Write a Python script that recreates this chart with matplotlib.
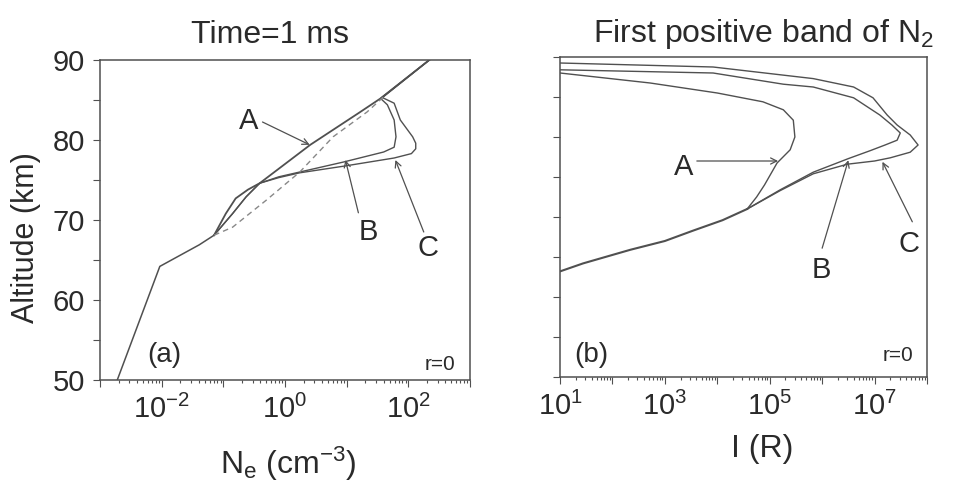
import numpy as np
import matplotlib
matplotlib.use('Agg')
import matplotlib.pyplot as plt
from matplotlib.ticker import FixedLocator, LogLocator, NullFormatter

plt.rcParams['font.family'] = ['Liberation Sans', 'DejaVu Sans']
plt.rcParams['mathtext.fontset'] = 'custom'
plt.rcParams['mathtext.rm'] = 'Liberation Sans'
plt.rcParams['mathtext.it'] = 'Liberation Sans:italic'
plt.rcParams['mathtext.default'] = 'regular'

line_col = '#505050'
text_col = '#2a2a2a'

# ---- panel (a): electron density, log10(Ne) vs altitude (km)
low_alt = [50, 64.2, 66.9, 68.1]
low_logn = [-2.72, -2.03, -1.39, -1.15]

a_alt = [68.1, 70.8, 72.7, 73.8, 74.6, 79.4, 83.4, 85.2, 90]
a_logn = [-1.15, -0.96, -0.80, -0.60, -0.41, 0.41, 1.20, 1.55, 2.34]

b_alt = [68.1, 70.8, 72.9, 74.6, 75.4, 76.0, 77.25, 78.5, 79.1, 80.4, 82.5, 84.4, 85.2, 90]
b_logn = [-1.15, -0.85, -0.63, -0.41, -0.10, 0.24, 0.95, 1.60, 1.77, 1.80, 1.77, 1.66, 1.55, 2.34]

c_alt = [68.1, 70.8, 72.9, 74.6, 75.3, 75.9, 76.75, 77.75, 78.3, 78.9, 79.6, 80.4, 82.5, 84.6, 85.3, 90]
c_logn = [-1.15, -0.85, -0.63, -0.41, -0.10, 0.24, 0.97, 1.77, 2.05, 2.12, 2.12, 2.07, 1.87, 1.77, 1.58, 2.34]

dash_alt = [68.1, 69.1, 72.5, 76.0, 80.4, 83.5, 85.4]
dash_logn = [-1.15, -0.85, -0.30, 0.24, 0.78, 1.33, 1.60]

# ---- panel (b): first positive band intensity, log10(I) vs altitude (km)
low_b_alt = [63.2, 64.2, 65.9, 67.0, 68.3, 69.6, 71.0]
low_b_logi = [1.0, 1.44, 2.34, 3.0, 3.54, 4.1, 4.57]

ia_alt = [71.0, 72.5, 74.0, 76.75, 78.4, 80.0, 82.1, 83.4, 84.4, 85.5, 86.75, 88.0]
ia_logi = [4.57, 4.75, 4.90, 5.14, 5.39, 5.48, 5.45, 5.26, 4.87, 4.0, 2.72, 1.0]

ib_alt = [71.0, 73.4, 75.6, 77.3, 78.3, 79.0, 79.6, 80.5, 81.5, 82.75, 84.9, 86.25, 86.6, 88.0, 88.4]
ib_logi = [4.57, 5.20, 5.83, 6.50, 6.92, 7.20, 7.43, 7.49, 7.33, 7.10, 6.60, 5.83, 5.26, 3.92, 1.0]

ic_alt = [71.0, 73.3, 75.4, 76.6, 77.0, 77.4, 78.1, 79.0, 80.25, 81.5, 82.75, 84.9, 86.25, 87.3, 88.75, 89.25]
ic_logi = [4.57, 5.20, 5.83, 6.48, 7.0, 7.30, 7.68, 7.83, 7.68, 7.43, 7.24, 6.97, 6.60, 5.83, 3.92, 1.0]

fig = plt.figure(figsize=(9.54, 4.82), dpi=100)
ax1 = fig.add_axes([100/954, 1-380/482, 370/954, 320/482])
ax2 = fig.add_axes([560/954, 1-377/482, 367/954, 320/482])

def ten(v):
    return 10**np.array(v)

ax1.plot(ten(low_logn), low_alt, color=line_col, lw=1.1)
ax1.plot(ten(a_logn), a_alt, color=line_col, lw=1.3)
ax1.plot(ten(b_logn), b_alt, color=line_col, lw=1.0)
ax1.plot(ten(c_logn), c_alt, color=line_col, lw=1.0)
ax1.plot(ten(dash_logn), dash_alt, color='#888888', lw=1.0, ls=(0, (4, 3)))

ax2.plot(ten(low_b_logi), low_b_alt, color=line_col, lw=1.5)
ax2.plot(ten(ia_logi), ia_alt, color=line_col, lw=1.0)
ax2.plot(ten(ib_logi), ib_alt, color=line_col, lw=1.0)
ax2.plot(ten(ic_logi), ic_alt, color=line_col, lw=1.0)

# axes styling
def style(ax, lo, hi, labelled, ylabels):
    ax.set_xscale('log')
    ax.set_xlim(10.0**lo, 10.0**hi)
    ax.set_ylim(50, 90)
    dec = list(range(lo, hi + 1))
    ax.xaxis.set_major_locator(FixedLocator([10.0**d for d in dec]))
    ax.set_xticklabels(['$10^{%d}$' % d if d in labelled else '' for d in dec])
    ax.xaxis.set_minor_locator(LogLocator(base=10, subs=np.arange(2, 10), numticks=30))
    ax.xaxis.set_minor_formatter(NullFormatter())
    yt = list(range(50, 95, 5))
    ax.set_yticks(yt)
    if ylabels:
        ax.set_yticklabels([str(v) if v % 10 == 0 else '' for v in yt])
    else:
        ax.set_yticklabels([])
    ax.tick_params(which='both', direction='out', color=line_col, width=0.8,
                   labelsize=21, labelcolor=text_col, top=False, right=False)
    ax.tick_params(which='major', length=5, pad=6)
    ax.tick_params(which='minor', length=2.5)
    for s in ax.spines.values():
        s.set_color(line_col)
        s.set_linewidth(1.1)

style(ax1, -3, 3, [-2, 0, 2], True)
style(ax2, 1, 8, [1, 3, 5, 7], False)

arr = dict(arrowstyle='->', color=line_col, lw=0.9, shrinkA=0, shrinkB=0, mutation_scale=11)

# panel (a) labels
ax1.text(10**-0.59, 82.4, 'A', fontsize=21, color=text_col, ha='center', va='center')
ax1.annotate('', xy=(10**0.40, 79.4), xytext=(10**-0.365, 82.25), arrowprops=arr)
ax1.text(10**1.35, 68.5, 'B', fontsize=21, color=text_col, ha='center', va='center')
ax1.annotate('', xy=(10**0.98, 77.5), xytext=(10**1.19, 70.9), arrowprops=arr)
ax1.text(10**2.32, 66.5, 'C', fontsize=21, color=text_col, ha='center', va='center')
ax1.annotate('', xy=(10**1.79, 77.5), xytext=(10**2.25, 68.5), arrowprops=arr)
ax1.text(0.173, 0.078, '(a)', transform=ax1.transAxes, fontsize=20, color=text_col,
         ha='center', va='center')
ax1.text(0.96, 0.047, 'r=0', transform=ax1.transAxes, fontsize=15, color=text_col,
         ha='right', va='center')

# panel (b) labels
ax2.text(10**3.35, 76.25, 'A', fontsize=21, color=text_col, ha='center', va='center')
ax2.annotate('', xy=(10**5.16, 77.0), xytext=(10**3.61, 77.0), arrowprops=arr)
ax2.text(10**5.98, 63.4, 'B', fontsize=21, color=text_col, ha='center', va='center')
ax2.annotate('', xy=(10**6.5, 77.1), xytext=(10**6.0, 66.1), arrowprops=arr)
ax2.text(10**7.66, 66.6, 'C', fontsize=21, color=text_col, ha='center', va='center')
ax2.annotate('', xy=(10**7.15, 76.9), xytext=(10**7.72, 69.4), arrowprops=arr)
ax2.text(0.084, 0.069, '(b)', transform=ax2.transAxes, fontsize=20, color=text_col,
         ha='center', va='center')
ax2.text(0.962, 0.066, 'r=0', transform=ax2.transAxes, fontsize=15, color=text_col,
         ha='right', va='center')

# titles and axis labels
fig.text(270/954, 1-43/482, 'Time=1 ms', fontsize=23, color=text_col, ha='center', va='baseline')
fig.text(763/954, 1-42/482, 'First positive band of N$_2$', fontsize=23, color=text_col,
         ha='center', va='baseline')
fig.text(26/954, 1-238/482, 'Altitude (km)', rotation=90, fontsize=22, color=text_col,
         ha='center', va='center')
fig.text(288/954, 1-474/482, 'N$_e$ (cm$^{-3}$)', fontsize=23, color=text_col,
         ha='center', va='baseline')
fig.text(762/954, 1-457/482, 'I (R)', fontsize=23, color=text_col, ha='center', va='baseline')

fig.savefig('out.png', dpi=100)
